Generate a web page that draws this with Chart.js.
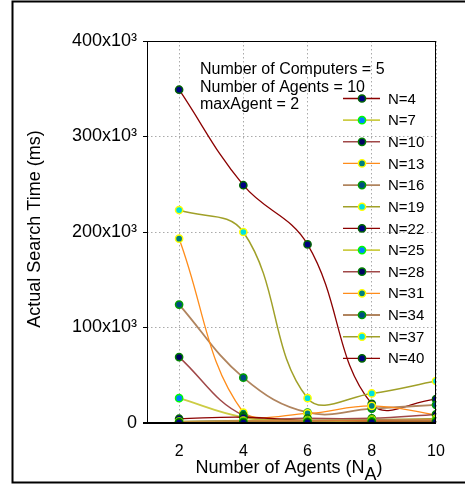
<!DOCTYPE html>
<html>
<head>
<meta charset="utf-8">
<script src="https://cdn.jsdelivr.net/npm/chart.js@4.4.1/dist/chart.umd.min.js"></script>
<style>
  html, body { margin: 0; padding: 0; background: #fff; }
</style>
</head>
<body>
<canvas id="main" width="465" height="487"></canvas>
<script>
// number of agents (x) and tick values
const agents = [2, 4, 6, 8, 10];
const xTicks = [2, 4, 6, 8, 10];
const yTicks = [0, 100000, 200000, 300000, 400000];

// actual search time (ms) per N
const n4  = [300, 500, 600, 800, 1000];
const n7  = [500, 800, 1000, 1200, 1500];
const n10 = [800, 1200, 1500, 1800, 2200];
const n13 = [1000, 1600, 2000, 2500, 3000];
const n16 = [1200, 2000, 2500, 3000, 3500];
const n19 = [1500, 2500, 3000, 3500, 4500];
const n22 = [4500, 6000, 2500, 2000, 4000];
const n25 = [26000, 6000, 2000, 1500, 2000];
const n28 = [69000, 8000, 5000, 5000, 9000];
const n31 = [193000, 11000, 10000, 18000, 8500];
const n34 = [124000, 47500, 11000, 15000, 19000];
const n37 = [223000, 200000, 26000, 31000, 44000];
const n40 = [349000, 249000, 187000, 20000, 25000];

const seriesLabels = ['N=4', 'N=7', 'N=10', 'N=13', 'N=16', 'N=19', 'N=22',
                      'N=25', 'N=28', 'N=31', 'N=34', 'N=37', 'N=40'];
const seriesValues = [n4, n7, n10, n13, n16, n19, n22, n25, n28, n31, n34, n37, n40];

const infoLines = ['Number of Computers = 5', 'Number of Agents = 10', 'maxAgent = 2'];

// six line / marker styles that repeat
const styles = [
  { line: '#8b0000', w: 1.3, fill: '#000080', edge: '#006400' },
  { line: '#cccc44', w: 1.8, fill: '#0080ff', edge: '#00ff00' },
  { line: '#a04848', w: 1.5, fill: '#000060', edge: '#008000' },
  { line: '#ff8c1a', w: 1.3, fill: '#008080', edge: '#ffff00' },
  { line: '#b0845e', w: 1.8, fill: '#004c80', edge: '#00a000' },
  { line: '#a0a028', w: 1.5, fill: '#00e0e0', edge: '#ffff00' },
];

const FONT = '"Liberation Sans", Arial, sans-serif';

const datasets = seriesValues.map((vals, i) => {
  const s = styles[i % styles.length];
  return {
    label: seriesLabels[i],
    data: agents.map((a, j) => ({ x: a, y: vals[j] })),
    borderColor: s.line,
    borderWidth: s.w,
    backgroundColor: s.fill,
    pointBackgroundColor: s.fill,
    pointBorderColor: s.edge,
    pointBorderWidth: 1.5,
    pointRadius: 3.6,
    tension: 0.4,
  };
});

const decor = {
  id: 'decor',
  afterDraw(chart) {
    const ctx = chart.ctx;
    const a = chart.chartArea;
    ctx.save();

    // outer figure frame
    ctx.strokeStyle = '#000';
    ctx.lineWidth = 2;
    ctx.beginPath();
    ctx.moveTo(480, 1.5);
    ctx.lineTo(12.5, 1.5);
    ctx.lineTo(12.5, 482.5);
    ctx.lineTo(480, 482.5);
    ctx.stroke();

    // plot box
    ctx.lineWidth = 1;
    ctx.strokeRect(a.left + 0.5, a.top + 0.5, a.right - a.left - 1, a.bottom - a.top);
    ctx.lineWidth = 2;
    ctx.beginPath();
    ctx.moveTo(a.left - 4, a.bottom);
    ctx.lineTo(a.right, a.bottom);
    ctx.stroke();

    // info text
    ctx.fillStyle = '#000';
    ctx.font = '16px ' + FONT;
    ctx.textAlign = 'left';
    ctx.textBaseline = 'alphabetic';
    infoLines.forEach((t, i) => ctx.fillText(t, 200, 74 + i * 17.5));

    // legend
    ctx.font = '15px ' + FONT;
    ctx.textBaseline = 'middle';
    chart.data.datasets.forEach((ds, i) => {
      const y = 98.5 + i * 21.65;
      ctx.strokeStyle = ds.borderColor;
      ctx.lineWidth = ds.borderWidth;
      ctx.beginPath();
      ctx.moveTo(343, y);
      ctx.lineTo(380, y);
      ctx.stroke();
      ctx.beginPath();
      ctx.arc(362, y, ds.pointRadius, 0, Math.PI * 2);
      ctx.fillStyle = ds.pointBackgroundColor;
      ctx.fill();
      ctx.strokeStyle = ds.pointBorderColor;
      ctx.lineWidth = ds.pointBorderWidth;
      ctx.stroke();
      ctx.fillStyle = '#000';
      ctx.fillText(ds.label, 388, y + 1);
    });

    // y title
    ctx.font = '18px ' + FONT;
    ctx.textAlign = 'center';
    ctx.save();
    ctx.translate(35, 229);
    ctx.rotate(-Math.PI / 2);
    ctx.fillText('Actual Search Time (ms)', 0, 0);
    ctx.restore();

    // x title with subscript
    ctx.textAlign = 'left';
    ctx.textBaseline = 'alphabetic';
    const main = 'Number of Agents (N';
    const wMain = ctx.measureText(main).width;
    const wSub = ctx.measureText('A').width;
    const wEnd = ctx.measureText(')').width;
    const x0 = 289 - (wMain + wSub + wEnd) / 2;
    ctx.fillText(main, x0, 473);
    ctx.fillText('A', x0 + wMain, 480);
    ctx.fillText(')', x0 + wMain + wSub, 473);
    ctx.restore();
  }
};

new Chart(document.getElementById('main'), {
  type: 'line',
  data: { datasets },
  plugins: [decor],
  options: {
    responsive: false,
    animation: false,
    devicePixelRatio: 1,
    layout: { padding: { top: 41, right: 29, left: 0, bottom: 0 } },
    plugins: { legend: { display: false }, tooltip: { enabled: false } },
    scales: {
      x: {
        type: 'linear',
        min: 1,
        max: 10,
        afterBuildTicks: s => { s.ticks = xTicks.map(v => ({ value: v })); },
        afterFit: s => { s.height = 64; },
        grid: { color: '#aaa', lineWidth: 1, drawTicks: false },
        border: { display: false, dash: [1.5, 2.5] },
        ticks: {
          padding: 19,
          color: '#000',
          font: { family: FONT, size: 16 },
          maxRotation: 0,
        },
      },
      y: {
        min: 0,
        max: 400000,
        afterBuildTicks: s => { s.ticks = yTicks.map(v => ({ value: v })); },
        afterFit: s => { s.width = 147; },
        grid: { color: '#aaa', lineWidth: 1, drawTicks: true, tickLength: 4, tickColor: '#000', tickBorderDash: [] },
        border: { display: false, dash: [1.5, 2.5] },
        ticks: {
          padding: 6,
          color: '#000',
          font: { family: FONT, size: 18 },
          callback: v => (v === 0 ? '0' : (v / 1000) + 'x10\u00b3'),
        },
      },
    },
  },
});
</script>
</body>
</html>
